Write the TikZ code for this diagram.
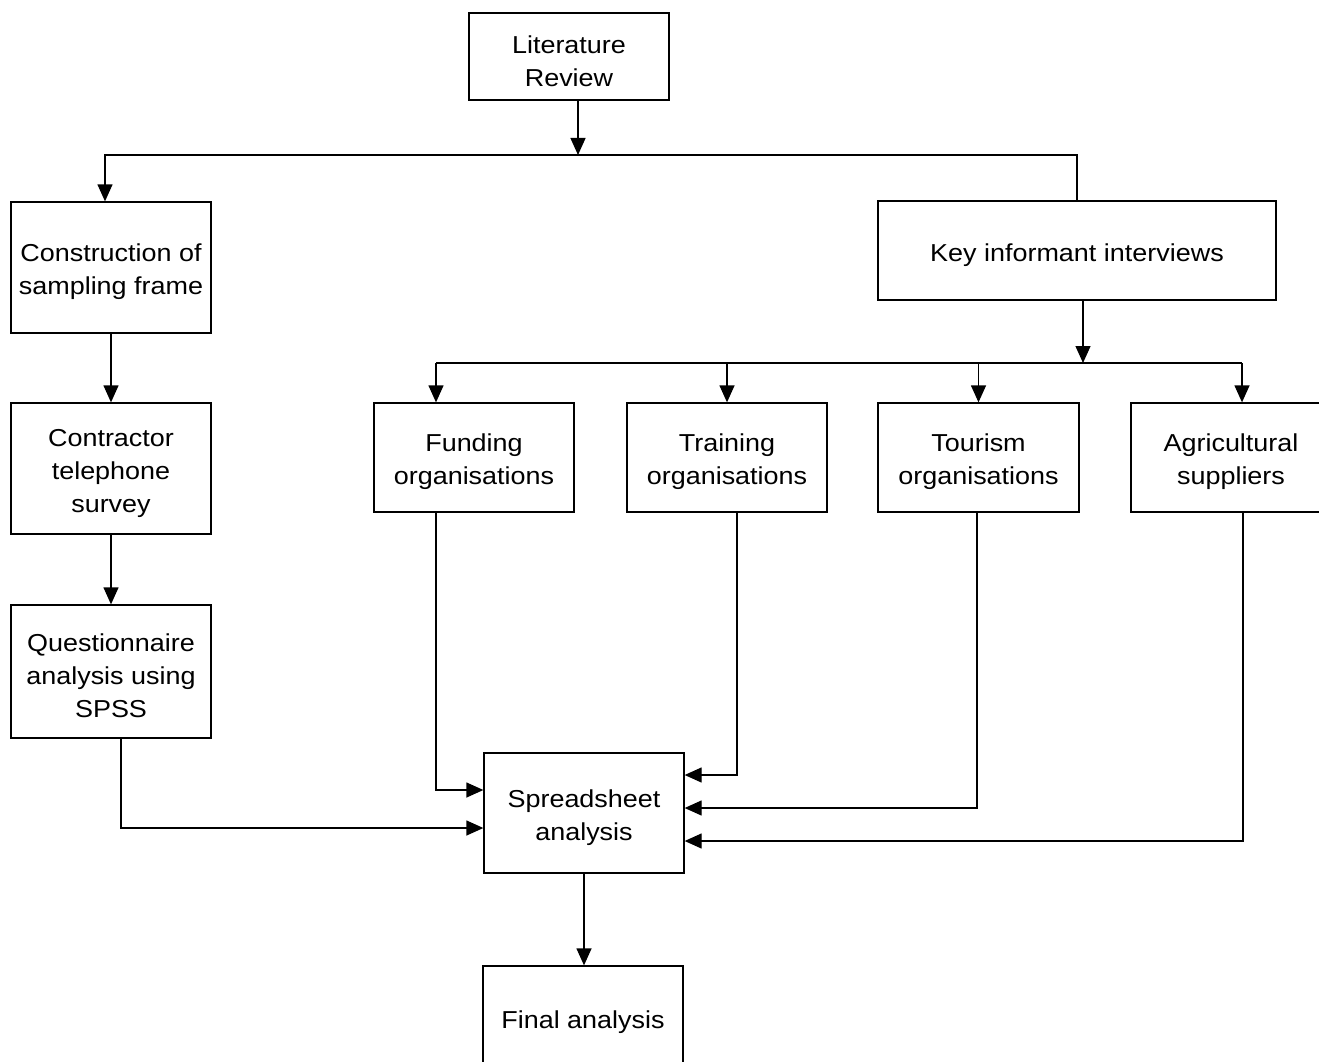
\documentclass[tikz,border=0pt]{standalone}
\usepackage{fontspec}
\setmainfont[FakeStretch=1.1]{Liberation Sans}
\usetikzlibrary{arrows.meta}
\newcommand{\tstrut}{\rule{0pt}{27pt}}
\begin{document}
\begin{tikzpicture}[x=1pt,y=-1pt,
  box/.style={draw,line width=1.3pt,rectangle,align=center,inner sep=0pt,
    font=\fontsize{24.5}{33}\selectfont},
  arr/.style={line width=1.3pt,-{Triangle[length=17pt,width=15pt]}},
  ln/.style={line width=1.3pt}]
\useasboundingbox (0,0) rectangle (1319,1062);
\node[box,minimum width=200,minimum height=87] (lit) at (569,56.5) {\tstrut Literature\\Review};
\node[box,minimum width=200,minimum height=131] (cons) at (111,267.5) {\tstrut Construction of\\sampling frame};
\node[box,minimum width=398,minimum height=99] (key) at (1077,250.5) {\tstrut Key informant interviews};
\node[box,minimum width=200,minimum height=131] (contr) at (111,468.5) {\tstrut Contractor\\telephone\\survey};
\node[box,minimum width=200,minimum height=133] (quest) at (111,671.5) {\tstrut Questionnaire\\analysis using\\SPSS};
\node[box,minimum width=200,minimum height=109] (fund) at (474,457.5) {\tstrut Funding\\organisations};
\node[box,minimum width=200,minimum height=109] (train) at (727,457.5) {\tstrut Training\\organisations};
\node[box,minimum width=201,minimum height=109] (tour) at (978.5,457.5) {\tstrut Tourism\\organisations};
\node[box,minimum width=200,minimum height=109] (agri) at (1231,457.5) {\tstrut Agricultural\\suppliers};
\node[box,minimum width=200,minimum height=120] (spread) at (584,813) {\tstrut Spreadsheet\\analysis};
\node[box,minimum width=200,minimum height=104] (final) at (583,1018) {\tstrut Final analysis};
% junctions
\coordinate (j1) at (578,155);
\coordinate (b1) at (105,155);
\coordinate (j2) at (1083,363);
\coordinate (b2l) at (436,363);
\coordinate (b2r) at (1242,363);
% connectors
\draw[arr] (lit.south -| j1) -- (j1);
\draw[arr] (key.north) |- (b1) -- (b1 |- cons.north);
\draw[arr] (key.south -| j2) -- (j2);
\draw[ln] (b2l) -- (b2r);
\draw[arr] (b2l) -- (b2l |- fund.north);
\draw[arr] (train.north |- j2) -- (train.north);
\draw[arr] (tour.north |- j2) -- (tour.north);
\draw[arr] (b2r) -- (b2r |- agri.north);
\draw[arr] (cons.south) -- (contr.north);
\draw[arr] (contr.south) -- (quest.north);
\draw[arr] ([xshift=10]quest.south) |- ([yshift=-15]spread.west);
\draw[arr] ([xshift=-38]fund.south) |- ([yshift=23]spread.west);
\draw[arr] ([xshift=10]train.south) |- ([yshift=38]spread.east);
\draw[arr] ([xshift=-1.5]tour.south) |- ([yshift=5]spread.east);
\draw[arr] ([xshift=12]agri.south) |- ([yshift=-28]spread.east);
\draw[arr] (spread.south) -- (spread.south |- final.north);
\end{tikzpicture}
\end{document}
